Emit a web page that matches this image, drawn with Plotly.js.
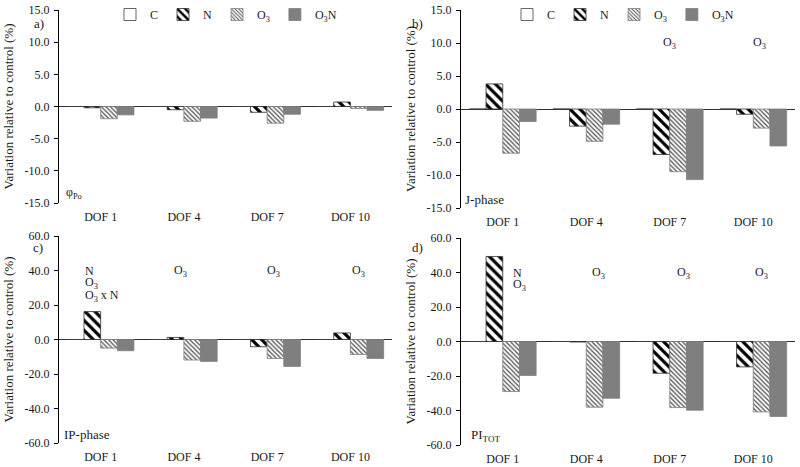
<!DOCTYPE html>
<html>
<head>
<meta charset="utf-8">
<script src="https://cdn.plot.ly/plotly-3.0.1.min.js"></script>
<style>
  html, body { margin: 0; padding: 0; background: #fff; }
  #chart { width: 800px; height: 467px; }
</style>
</head>
<body>
<div id="chart"></div>
<script>
/* ----------------- data ----------------- */
var categories = ['DOF 1', 'DOF 4', 'DOF 7', 'DOF 10'];
var seriesNames = ['C', 'N', 'O<sub>3</sub>', 'O<sub>3</sub>N'];

// a) phi Po
var phiC   = [0, 0, 0, 0];
var phiN   = [-0.2, -0.5, -0.9, 0.7];
var phiO3  = [-1.9, -2.3, -2.6, -0.3];
var phiO3N = [-1.3, -1.8, -1.2, -0.6];

// b) J-phase
var jC   = [0, 0, 0, 0];
var jN   = [3.8, -2.6, -6.9, -0.8];
var jO3  = [-6.7, -4.9, -9.5, -2.9];
var jO3N = [-1.9, -2.3, -10.7, -5.6];

// c) IP-phase
var ipC   = [0, 0, 0, 0];
var ipN   = [16.2, 1.2, -4.2, 3.8];
var ipO3  = [-5.0, -11.9, -11.0, -8.7];
var ipO3N = [-6.5, -12.7, -15.6, -11.0];

// d) PI TOT
var piC   = [0, 0, 0, 0];
var piN   = [49.3, -0.3, -18.4, -14.7];
var piO3  = [-29.0, -38.1, -38.3, -40.8];
var piO3N = [-19.7, -32.9, -39.8, -43.5];

// tick labels (hyphen minus like the original)
var smallTicks = [-15, -10, -5, 0, 5, 10, 15];
var smallTickText = ['-15.0', '-10.0', '-5.0', '0.0', '5.0', '10.0', '15.0'];
var bigTicks = [-60, -40, -20, 0, 20, 40, 60];
var bigTickText = ['-60.0', '-40.0', '-20.0', '0.0', '20.0', '40.0', '60.0'];

/* ----------------- helpers ----------------- */
var W = 800, H = 467;
function px(x) { return x / W; }
function py(y) { return 1 - y / H; }

var FONT = '"Liberation Serif", "Times New Roman", serif';
var INK = '#1a1a1a';

var styles = [
  {color: '#ffffff', line: {color: '#404040', width: 0.8}},
  {color: '#ffffff', line: {color: '#303030', width: 0.8},
   pattern: {shape: '\\', fgcolor: '#000000', bgcolor: '#ffffff', size: 7, solidity: 0.45}},
  {color: '#ffffff', line: {color: '#808080', width: 0.8},
   pattern: {shape: '\\', fgcolor: '#555555', bgcolor: '#ffffff', size: 3.2, solidity: 0.4}},
  {color: '#7f7f7f', line: {color: '#7f7f7f', width: 0.8}}
];

function panelTraces(vals, ax, legendName, show) {
  var out = [];
  for (var i = 0; i < vals.length; i++) {
    var s = styles[i];
    var marker = {color: s.color, line: s.line};
    if (s.pattern) marker.pattern = s.pattern;
    out.push({
      type: 'bar',
      name: seriesNames[i],
      x: categories,
      y: vals[i],
      xaxis: 'x' + ax,
      yaxis: 'y' + ax,
      marker: marker,
      showlegend: show,
      legend: legendName
    });
  }
  return out;
}

var data = []
  .concat(panelTraces([phiC, phiN, phiO3, phiO3N], '', 'legend', true))
  .concat(panelTraces([jC, jN, jO3, jO3N], '2', 'legend2', true))
  .concat(panelTraces([ipC, ipN, ipO3, ipO3N], '3', 'legend', false))
  .concat(panelTraces([piC, piN, piO3, piO3N], '4', 'legend', false));

function xAxis(domain, anchor) {
  return {
    domain: domain, anchor: anchor,
    type: 'category',
    showline: false, ticks: '', showgrid: false, zeroline: false,
    tickfont: {family: FONT, size: 12, color: INK},
    ticklabelstandoff: 5,
    fixedrange: true
  };
}
function yAxis(domain, anchor, range, tv, tt) {
  return {
    domain: domain, anchor: anchor,
    range: range,
    tickvals: tv, ticktext: tt,
    showline: true, linecolor: '#000', linewidth: 1,
    ticks: 'outside', ticklen: 4, tickcolor: '#000', tickwidth: 1,
    ticklabelstandoff: 2,
    showgrid: false,
    zeroline: true, zerolinecolor: '#303030', zerolinewidth: 1,
    tickfont: {family: FONT, size: 12, color: INK},
    title: {text: 'Variation relative to control (%)', font: {family: FONT, size: 13, color: INK}, standoff: 8},
    automargin: false,
    fixedrange: true
  };
}

var xa = [px(59), px(392)], xb = [px(461), px(795)];

var ann = [];
function note(text, x, y, opts) {
  var a = {text: text, x: x, y: y, showarrow: false,
           font: {family: FONT, size: 12, color: INK}, xanchor: 'center', yanchor: 'middle'};
  for (var k in opts) a[k] = opts[k];
  ann.push(a);
}
var bigFont = {family: FONT, size: 13, color: INK};
// panel letters
note('a)', px(39), py(24), {xref: 'paper', yref: 'paper', font: bigFont});
note('b)', px(417), py(24), {xref: 'paper', yref: 'paper', font: bigFont});
note('c)', px(38), py(247), {xref: 'paper', yref: 'paper', font: bigFont});
note('d)', px(417), py(247), {xref: 'paper', yref: 'paper', font: bigFont});
// parameter names
note('φ<sub>Po</sub>', px(64), py(193), {xref: 'paper', yref: 'paper', xanchor: 'left'});
note('J-phase', px(463), py(199), {xref: 'paper', yref: 'paper', xanchor: 'left', font: bigFont});
note('IP-phase', px(62), py(434), {xref: 'paper', yref: 'paper', xanchor: 'left', font: bigFont});
note('PI<sub>TOT</sub>', px(469), py(435), {xref: 'paper', yref: 'paper', xanchor: 'left', font: bigFont});
// significance labels
var O3 = 'O<sub>3</sub>';
note(O3, 'DOF 7', 10, {xref: 'x2', yref: 'y2'});
note(O3, 'DOF 10', 10, {xref: 'x2', yref: 'y2', xshift: 6});
note('N', 'DOF 1', 40, {xref: 'x3', yref: 'y3', xanchor: 'left', xshift: -18});
note(O3, 'DOF 1', 40, {xref: 'x3', yref: 'y3', xanchor: 'left', xshift: -18, yshift: -12.5});
note(O3 + ' x N', 'DOF 1', 40, {xref: 'x3', yref: 'y3', xanchor: 'left', xshift: -18, yshift: -25});
note(O3, 'DOF 4', 40, {xref: 'x3', yref: 'y3', xshift: -3});
note(O3, 'DOF 7', 40, {xref: 'x3', yref: 'y3', xshift: 6});
note(O3, 'DOF 10', 40, {xref: 'x3', yref: 'y3', xshift: 8});
note('N', 'DOF 1', 40, {xref: 'x4', yref: 'y4', xanchor: 'left', xshift: 8});
note(O3, 'DOF 1', 40, {xref: 'x4', yref: 'y4', xanchor: 'left', xshift: 8, yshift: -12.5});
note(O3, 'DOF 4', 40, {xref: 'x4', yref: 'y4', xshift: 12});
note(O3, 'DOF 7', 40, {xref: 'x4', yref: 'y4', xshift: 14});
note(O3, 'DOF 10', 40, {xref: 'x4', yref: 'y4', xshift: 8});

var legendStyle = {
  orientation: 'h', xanchor: 'center', yanchor: 'top',
  font: {family: FONT, size: 12, color: INK},
  bgcolor: 'rgba(0,0,0,0)', borderwidth: 0,
  itemwidth: 30, traceorder: 'normal'
};
var legendA = Object.assign({x: px(226), y: 1.0}, legendStyle);
var legendB = Object.assign({x: px(623), y: 1.0}, legendStyle);

var layout = {
  width: W, height: H,
  margin: {l: 0, r: 0, t: 0, b: 0},
  paper_bgcolor: '#fff', plot_bgcolor: '#fff',
  barmode: 'group', bargap: 0.2, bargroupgap: 0,
  font: {family: FONT, color: INK},
  xaxis: xAxis(xa, 'y'),
  yaxis: yAxis([py(203), py(10)], 'x', [-15, 15], smallTicks, smallTickText),
  xaxis2: xAxis(xb, 'y2'),
  yaxis2: yAxis([py(208), py(10)], 'x2', [-15, 15], smallTicks, smallTickText),
  xaxis3: xAxis(xa, 'y3'),
  yaxis3: yAxis([py(443), py(236)], 'x3', [-60, 60], bigTicks, bigTickText),
  xaxis4: xAxis(xb, 'y4'),
  yaxis4: yAxis([py(445), py(238)], 'x4', [-60, 60], bigTicks, bigTickText),
  legend: legendA,
  legend2: legendB,
  annotations: ann
};

Plotly.newPlot('chart', data, layout, {displayModeBar: false, staticPlot: true});
</script>
</body>
</html>
